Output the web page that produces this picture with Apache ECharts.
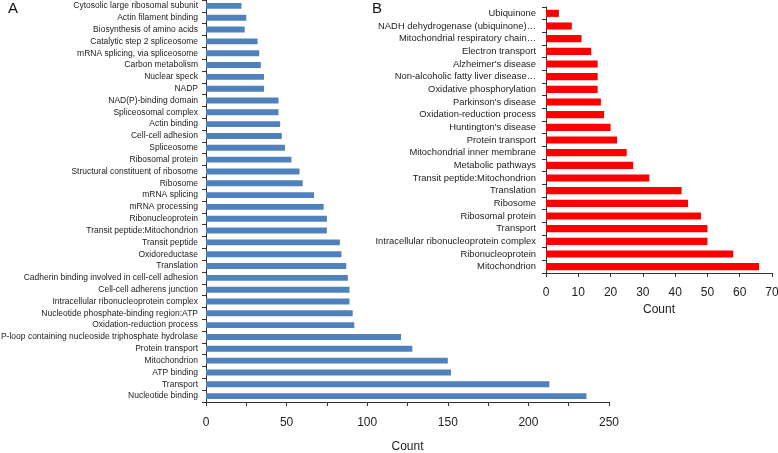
<!DOCTYPE html>
<html><head><meta charset="utf-8">
<script src="https://cdn.jsdelivr.net/npm/echarts@6/dist/echarts.min.js"></script>
<style>html,body{margin:0;padding:0;background:#fff}#c{width:778px;height:453px}</style>
</head><body><div id="c"></div>
<script>
// Panel A (top to bottom)
const catsA = ["Cytosolic large ribosomal subunit","Actin filament binding","Biosynthesis of amino acids","Catalytic step 2 spliceosome","mRNA splicing, via spliceosome","Carbon metabolism","Nuclear speck","NADP","NAD(P)-binding domain","Spliceosomal complex","Actin binding","Cell-cell adhesion","Spliceosome","Ribosomal protein","Structural constituent of ribosome","Ribosome","mRNA splicing","mRNA processing","Ribonucleoprotein","Transit peptide:Mitochondrion","Transit peptide","Oxidoreductase","Translation","Cadherin binding involved in cell-cell adhesion","Cell-cell adherens junction","Intracellular ribonucleoprotein complex","Nucleotide phosphate-binding region:ATP","Oxidation-reduction process","P-loop containing nucleoside triphosphate hydrolase","Protein transport","Mitochondrion","ATP binding","Transport","Nucleotide binding"];
const valsA = [22,25,24,32,33,34,36,36,45,45,46,47,49,53,58,60,67,73,75,75,83,84,87,88,89,89,91,92,121,128,150,152,213,236];
const ticksA = [0,50,100,150,200,250];
// Panel B (top to bottom)
const catsB = ["Ubiquinone","NADH dehydrogenase (ubiquinone)…","Mitochondrial respiratory chain…","Electron transport","Alzheimer's disease","Non-alcoholic fatty liver disease…","Oxidative phosphorylation","Parkinson's disease","Oxidation-reduction process","Huntington's disease","Protein transport","Mitochondrial inner membrane","Metabolic pathways","Transit peptide:Mitochondrion","Translation","Ribosome","Ribosomal protein","Transport","Intracellular ribonucleoprotein complex","Ribonucleoprotein","Mitochondrion"];
const valsB = [4,8,11,14,16,16,16,17,18,20,22,25,27,32,42,44,48,50,50,58,66];
const ticksB = [0,10,20,30,40,50,60,70];

const FONT = "Liberation Sans, Arial, sans-serif";
const axisLine = {show:true, lineStyle:{color:'#333', width:1}};
const chart = echarts.init(document.getElementById('c'), null, {renderer:'canvas'});
chart.setOption({
  animation:false,
  textStyle:{fontFamily:FONT},
  graphic:[
    {type:'text', left:8, top:1, style:{text:'A', font:'15px '+FONT, fill:'#111'}},
    {type:'text', left:372, top:1, style:{text:'B', font:'15px '+FONT, fill:'#111'}}
  ],
  grid:[
    {left:206, right:169, top:0, bottom:51, containLabel:false, outerBoundsMode:'none'},
    {left:546, right:6, top:7, bottom:180, containLabel:false, outerBoundsMode:'none'}
  ],
  xAxis:[
    {gridIndex:0, type:'value', min:ticksA[0], max:ticksA[ticksA.length-1], interval:50,
     axisLine:axisLine, axisTick:{show:true, length:4, lineStyle:{color:'#333'}},
     minorTick:{show:true, splitNumber:2, length:4, lineStyle:{color:'#333'}},
     splitLine:{show:false}, axisLabel:{fontSize:12, color:'#222', margin:15, fontFamily:FONT},
     name:'Count', nameLocation:'middle', nameGap:39, nameTextStyle:{fontSize:12, color:'#222', fontFamily:FONT}},
    {gridIndex:1, type:'value', min:ticksB[0], max:ticksB[ticksB.length-1], interval:10,
     axisLine:axisLine, axisTick:{show:true, length:4, lineStyle:{color:'#333'}},
     splitLine:{show:false}, axisLabel:{fontSize:12, color:'#222', margin:14, fontFamily:FONT},
     name:'Count', nameLocation:'middle', nameGap:25, nameTextStyle:{fontSize:12, color:'#222', fontFamily:FONT}}
  ],
  yAxis:[
    {gridIndex:0, type:'category', data:catsA, inverse:true,
     axisLine:axisLine, axisTick:{show:true, length:4, lineStyle:{color:'#333'}},
     axisLabel:{interval:0, fontSize:8.5, color:'#222', margin:8, fontFamily:FONT}},
    {gridIndex:1, type:'category', data:catsB, inverse:true,
     axisLine:axisLine, axisTick:{show:true, length:4, lineStyle:{color:'#333'}},
     axisLabel:{interval:0, fontSize:9.4, color:'#222', margin:10, fontFamily:FONT}}
  ],
  series:[
    {type:'bar', xAxisIndex:0, yAxisIndex:0, data:valsA, barWidth:'50%',
     itemStyle:{color:'#4F81BD'}},
    {type:'bar', xAxisIndex:1, yAxisIndex:1, data:valsB, barWidth:'56%',
     itemStyle:{color:'#FF0000'}}
  ]
});
</script></body></html>
